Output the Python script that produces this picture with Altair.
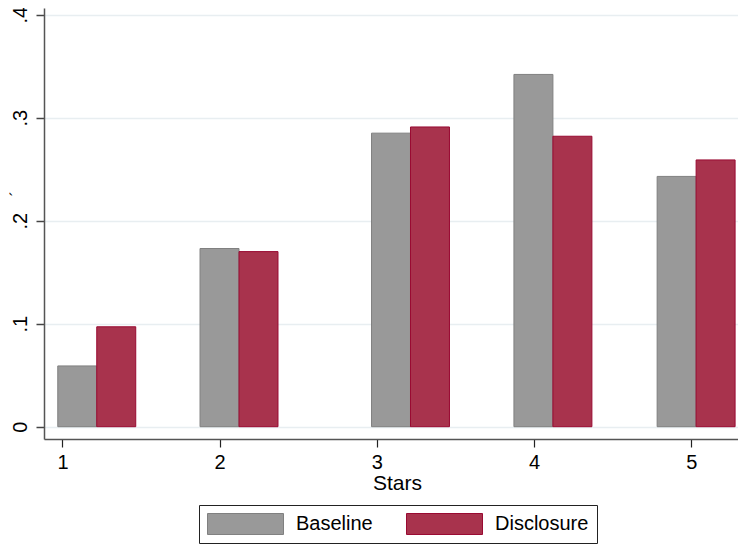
import altair as alt
import pandas as pd

# ---- data ----
stars = [1, 2, 3, 4, 5]
groups = ["Baseline", "Disclosure"]
baseline = [0.059, 0.173, 0.285, 0.342, 0.243]
disclosure = [0.097, 0.170, 0.291, 0.282, 0.259]
# x value (axis units) at which each Baseline/Disclosure pair meets
pair_x = [1.218, 2.123, 3.214, 4.120, 5.031]
y_ticks = [0, 0.1, 0.2, 0.3, 0.4]

BAR_W = 0.248
FONT = "Liberation Sans"

rows = []
for s, px, b, d in zip(stars, pair_x, baseline, disclosure):
    rows.append({"stars": s, "group": groups[0], "value": b, "x0": px - BAR_W, "x1": px})
    rows.append({"stars": s, "group": groups[1], "value": d, "x0": px, "x1": px + BAR_W})
df = pd.DataFrame(rows)

legend = alt.Legend(
    title=None,
    orient="none",
    legendX=155,
    legendY=497,
    direction="horizontal",
    padding=8,
    strokeColor="#222222",
    fillColor="#ffffff",
    symbolType="M-1,-0.2763H1V0.2763H-1Z",
    symbolSize=5776,
    symbolStrokeWidth=1,
    clipHeight=22,
    labelOffset=12,
    labelFont=FONT,
    labelFontSize=20,
    labelColor="#000000",
    labelExpr="datum.label == 'Disclosure' ? datum.label + ' ' : datum.label",
    columnPadding=33,
)

chart = alt.Chart(df).mark_bar(strokeWidth=1, opacity=1).encode(
    x=alt.X(
        "x0:Q",
        scale=alt.Scale(domain=[0.8824, 5.2975], nice=False, zero=False),
        axis=alt.Axis(
            values=stars,
            format="d",
            title="Stars",
            grid=False,
            domainColor="#555555",
            domainWidth=1.5,
            tickColor="#222222",
            tickWidth=1.2,
            tickSize=8,
            labelFont=FONT,
            labelFontSize=20,
            labelColor="#000000",
            labelPadding=5,
            labelFlush=False,
            titleFont=FONT,
            titleFontSize=21,
            titleFontWeight="normal",
            titleColor="#000000",
            titleX=353,
            titleY=50,
            titleBaseline="alphabetic",
        ),
    ),
    x2="x1:Q",
    y=alt.Y(
        "value:Q",
        scale=alt.Scale(domain=[-0.01194, 0.4065], nice=False, zero=False),
        axis=alt.Axis(
            values=y_ticks,
            labelExpr="datum.value == 0 ? '0' : substring(format(datum.value, '.1f'), 1)",
            title="´",
            grid=True,
            gridColor="#e8eef1",
            gridWidth=1.3,
            domainColor="#555555",
            domainWidth=1.5,
            tickColor="#444444",
            tickWidth=1.5,
            tickSize=8,
            labelFont=FONT,
            labelFontSize=20,
            labelColor="#000000",
            labelAngle=270,
            labelAlign="center",
            labelBaseline="alphabetic",
            labelPadding=10,
            labelFlush=False,
            titleFont=FONT,
            titleFontSize=16,
            titleFontWeight="normal",
            titleColor="#000000",
            titleAngle=270,
            titleAlign="center",
            titleBaseline="top",
            titleX=-36,
            titleY=185,
        ),
    ),
    y2=alt.datum(0),
    fill=alt.Fill(
        "group:N",
        scale=alt.Scale(domain=groups, range=["#999999", "#a8334d"]),
        legend=legend,
    ),
    stroke=alt.Stroke(
        "group:N",
        scale=alt.Scale(domain=groups, range=["#808080", "#990a32"]),
        legend=legend,
    ),
).properties(
    width=694,
    height=431,
    autosize=alt.AutoSizeParams(type="none"),
    padding={"left": 36, "top": 0, "right": 0, "bottom": 107},
    background="#ffffff",
).configure_view(stroke=None)

chart.save("out.html", embed_options={"renderer": "svg", "actions": False})
